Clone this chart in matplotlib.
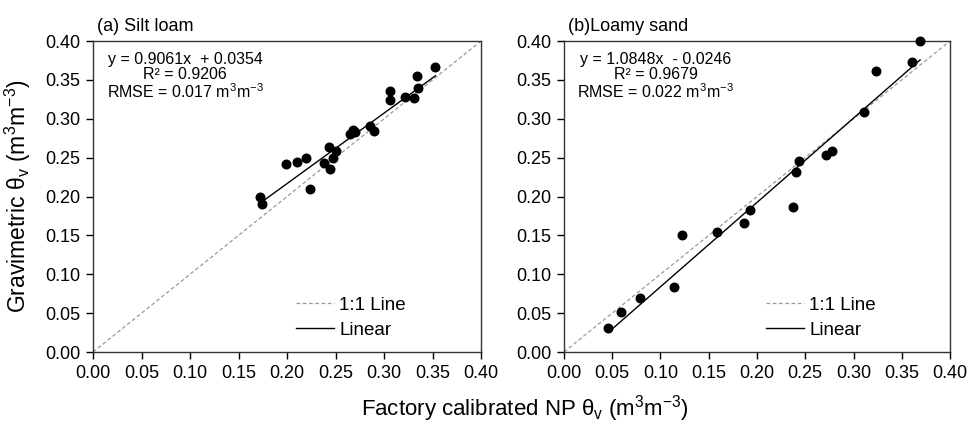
import numpy as np
import matplotlib
matplotlib.use("Agg")
import matplotlib.pyplot as plt
from matplotlib.ticker import MultipleLocator, FormatStrFormatter

plt.rcParams['font.family'] = ['Liberation Sans', 'DejaVu Sans']
plt.rcParams['mathtext.fontset'] = 'custom'
plt.rcParams['mathtext.rm'] = 'Liberation Sans'
plt.rcParams['mathtext.it'] = 'Liberation Sans:italic'

# (a) Silt loam: factory calibrated NP vs gravimetric
silt_np = [0.172, 0.174, 0.199, 0.210, 0.220, 0.224, 0.238, 0.243, 0.244, 0.247,
           0.250, 0.265, 0.268, 0.270, 0.286, 0.290, 0.306, 0.306, 0.322, 0.331,
           0.334, 0.335, 0.353]
silt_grav = [0.199, 0.190, 0.242, 0.245, 0.249, 0.210, 0.243, 0.264, 0.235, 0.249,
             0.258, 0.280, 0.285, 0.283, 0.291, 0.284, 0.336, 0.324, 0.328, 0.327,
             0.355, 0.339, 0.367]
silt_fit = (0.9061, 0.0354)
silt_stats = "y = 0.9061x  + 0.0354\nR² = 0.9206\nRMSE = 0.017 m$^{3}$m$^{-3}$"

# (b) Loamy sand
sand_np = [0.046, 0.059, 0.079, 0.114, 0.122, 0.159, 0.187, 0.193, 0.237, 0.240,
           0.244, 0.271, 0.278, 0.311, 0.323, 0.361, 0.369]
sand_grav = [0.031, 0.051, 0.069, 0.083, 0.150, 0.154, 0.166, 0.183, 0.186, 0.232,
             0.246, 0.253, 0.258, 0.309, 0.361, 0.373, 0.400]
sand_fit = (1.0848, -0.0246)
sand_stats = "y = 1.0848x  - 0.0246\nR² = 0.9679\nRMSE = 0.022 m$^{3}$m$^{-3}$"

titles = ["(a) Silt loam", "(b)Loamy sand"]

fig = plt.figure(figsize=(9.7, 4.26), dpi=100)
ax1 = fig.add_axes([0.0959, 0.1737, 0.400, 0.730])
ax2 = fig.add_axes([0.5814, 0.1737, 0.398, 0.730])

panels = [(ax1, silt_np, silt_grav, silt_fit, silt_stats, titles[0]),
          (ax2, sand_np, sand_grav, sand_fit, sand_stats, titles[1])]

for ax, xs, ys, fit, stats, title in panels:
    ax.plot([0, 0.4], [0, 0.4], ls=(0, (3, 2)), color='#999999', lw=0.9, label='1:1 Line')
    fx = np.array([min(xs), max(xs)])
    ax.plot(fx, fit[0] * fx + fit[1], color='black', lw=1.0, label='Linear')
    ax.scatter(xs, ys, s=38, color='black', zorder=3, clip_on=False)
    ax.set_xlim(0, 0.4)
    ax.set_ylim(0, 0.4)
    ax.xaxis.set_major_locator(MultipleLocator(0.05))
    ax.yaxis.set_major_locator(MultipleLocator(0.05))
    ax.xaxis.set_major_formatter(FormatStrFormatter('%.2f'))
    ax.yaxis.set_major_formatter(FormatStrFormatter('%.2f'))
    ax.tick_params(direction='out', length=5, width=1, labelsize=13, pad=4)
    for sp in ax.spines.values():
        sp.set_linewidth(1.0)
        sp.set_color('#333333')
    ax.text(0.237, 0.965, stats, transform=ax.transAxes, ha='center', va='top',
            fontsize=11.5, linespacing=1.0)
    ax.text(0.01, 1.02, title, transform=ax.transAxes, ha='left', va='bottom', fontsize=13)
    ax.legend(loc='lower left', bbox_to_anchor=(0.48, -0.012), frameon=False, fontsize=13.5,
              handlelength=2.0, handletextpad=0.3, labelspacing=0.42)

fig.text(0.018, 0.54, 'Gravimetric θ$_{\\rm v}$ (m$^{3}$m$^{-3}$)', rotation=90,
         ha='center', va='center', fontsize=16.5)
fig.text(0.541, 0.042, 'Factory calibrated NP θ$_{\\rm v}$ (m$^{3}$m$^{-3}$)',
         ha='center', va='center', fontsize=16)

fig.savefig('out.png', dpi=100)
